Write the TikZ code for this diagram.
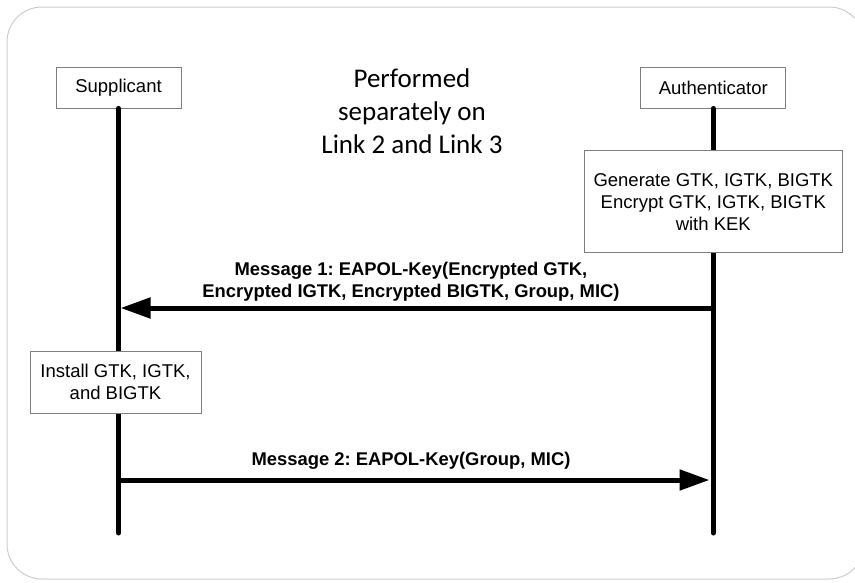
\documentclass[tikz,border=0pt]{standalone}
\usepackage{fontspec}
\setmainfont{Liberation Sans}
\newfontfamily\calibrifont{Carlito}
\usetikzlibrary{positioning, arrows.meta}
\frenchspacing

\begin{document}
\begin{tikzpicture}[x=1pt, y=-1pt,
    entity/.style={rectangle, draw=black!50, fill=white, line width=0.8pt, minimum height=41pt, inner sep=0pt, align=center, font=\fontsize{18.5}{22}\selectfont},
    action/.style={rectangle, draw=black!50, fill=white, line width=0.8pt, inner sep=0pt, align=center, font=\fontsize{18.5}{22}\selectfont},
    lifeline/.style={draw, line width=5pt, line cap=round},
    msg/.style={draw, line width=5pt, -{Triangle[length=30pt, width=20pt]}},
    msgLabel/.style={align=center, inner sep=0pt, font=\fontsize{18.4}{22}\selectfont\bfseries},
    note/.style={align=center, inner sep=0pt, font=\calibrifont\fontsize{27}{33}\selectfont}]

  \useasboundingbox (0,0) rectangle (855,582);
  \draw[black!20, line width=1pt, rounded corners=35pt] (7,7) rectangle (864,579);

  \node[entity, minimum width=125pt] (sup) at (118.5,87.5) {Supplicant};
  \node[entity, minimum width=145pt, right = 459pt of sup] (auth) {Authenticator};

  \coordinate (supEnd) at (sup.south |- 0,533);
  \coordinate (authEnd) at (auth.south |- 0,533);
  \draw[lifeline] (sup.south) -- (supEnd);
  \draw[lifeline] (auth.south) -- (authEnd);

  \node[note] (performed) at (412,111) {Performed\\separately on\\Link 2 and Link 3};

  \node[action, minimum width=258pt, minimum height=102pt, below = 42pt of auth] (generate)
        {Generate GTK, IGTK, BIGTK\\Encrypt GTK, IGTK, BIGTK\\with KEK};

  % message 1
  \coordinate (m1from) at (auth.south |- 0,308);
  \coordinate (m1to) at (120.5,308);
  \draw[msg] (m1from) -- (m1to);
  \node[msgLabel] (m1label) at (411,282) {Message 1: EAPOL-Key(Encrypted GTK,\\Encrypted IGTK, Encrypted BIGTK, Group, MIC)};

  \node[action, minimum width=171pt, minimum height=62pt] (install) at (115.5,382)
        {Install GTK, IGTK,\\and BIGTK};

  % message 2
  \coordinate (m2from) at (sup.south |- 0,480);
  \coordinate (m2to) at (709.5,480);
  \draw[msg] (m2from) -- (m2to);
  \node[msgLabel, above = 10pt of m2from -| m1label] (m2label) {Message 2: EAPOL-Key(Group, MIC)};

\end{tikzpicture}
\end{document}
